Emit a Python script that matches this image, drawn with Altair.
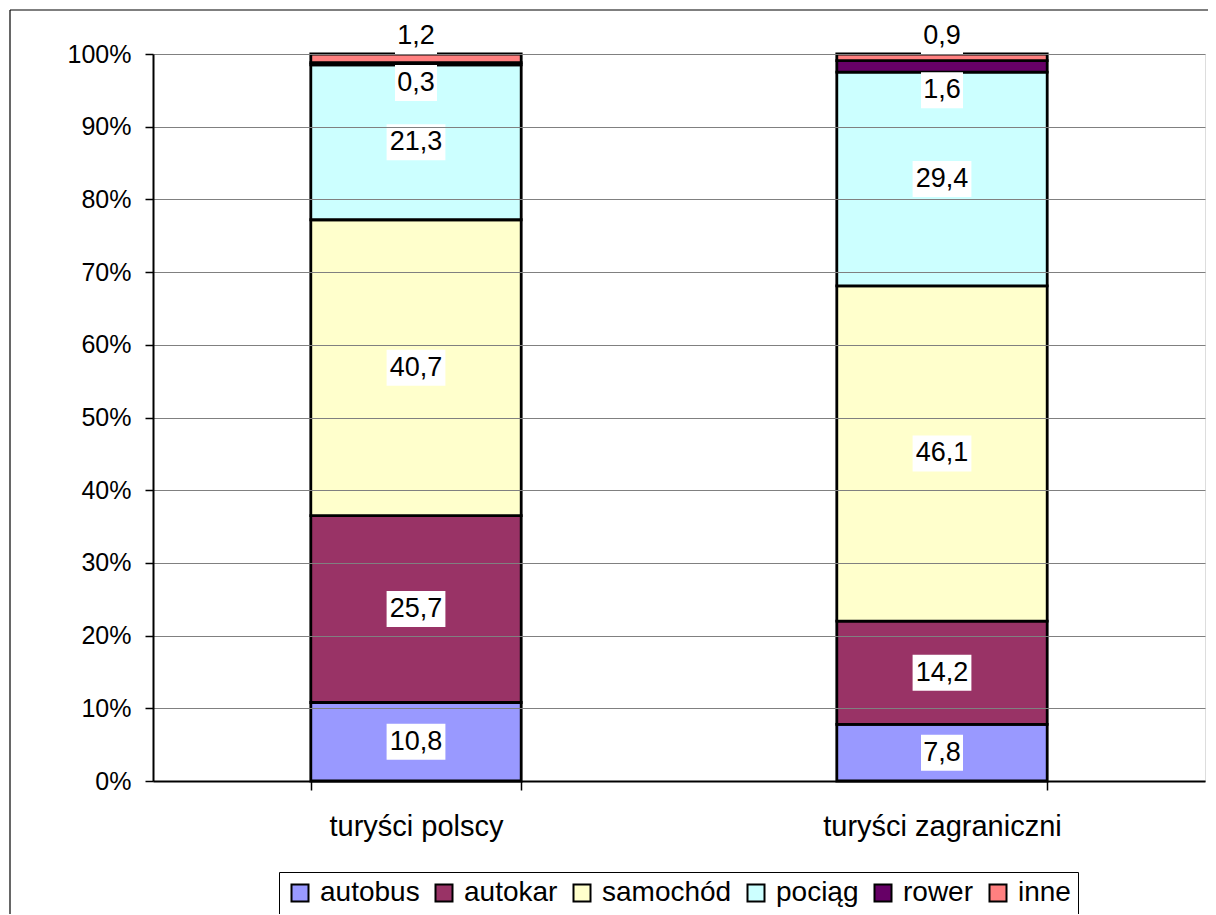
import altair as alt
import pandas as pd

groups = ["turyści polscy", "turyści zagraniczni"]
series = ["autobus", "autokar", "samochód", "pociąg", "rower", "inne"]
polscy = [10.8, 25.7, 40.7, 21.3, 0.3, 1.2]
zagraniczni = [7.8, 14.2, 46.1, 29.4, 1.6, 0.9]
colors = ["#9999FF", "#993366", "#FFFFCC", "#CCFFFF", "#660066", "#FF8080"]
y_ticks = [0, 0.1, 0.2, 0.3, 0.4, 0.5, 0.6, 0.7, 0.8, 0.9, 1.0]

rows = []
for g, vals in zip(groups, [polscy, zagraniczni]):
    for i, (s, v) in enumerate(zip(series, vals)):
        rows.append({"grupa": g, "srodek": s, "idx": i, "value": v})
df = pd.DataFrame(rows)

FONT = "Liberation Sans"

x_enc = alt.X(
    "grupa:N",
    sort=groups,
    scale=alt.Scale(paddingInner=0.6, paddingOuter=0.3),
    axis=alt.Axis(
        title=None, labelAngle=0, tickBand="extent", labelFont=FONT,
        labelFontSize=29, labelColor="black", labelPadding=22, tickSize=9,
        tickColor="black", tickWidth=1.5, domainColor="black", domainWidth=2,
        grid=False, zindex=2, labelLimit=500,
    ),
)
y_scale = alt.Scale(domain=[0, 1], nice=False)

base = alt.Chart(df).transform_stack(
    stack="value", groupby=["grupa"], as_=["y0", "y1"], offset="normalize",
    sort=[alt.SortField("idx", "ascending")],
)

bars = base.mark_bar(stroke="black", strokeWidth=2.8, opacity=1).encode(
    x=x_enc,
    y=alt.Y(
        "y0:Q", scale=y_scale,
        axis=alt.Axis(
            title=None, format=".0%", values=y_ticks, labelFont=FONT,
            labelFontSize=25, labelColor="black", labelPadding=14, tickSize=8,
            tickColor="black", tickWidth=1.5, domainColor="black", domainWidth=2,
            grid=True, gridColor="#808080", gridWidth=1.2, zindex=2,
        ),
    ),
    y2="y1:Q",
    color=alt.Color(
        "srodek:N", scale=alt.Scale(domain=series, range=colors),
        legend=alt.Legend(
            title=None, orient="none", legendX=126, legendY=818,
            direction="horizontal", columns=6, strokeColor="black",
            fillColor="white", padding=7, labelFont=FONT, labelFontSize=28,
            labelColor="black", symbolType="square", symbolSize=289,
            symbolStrokeColor="black", symbolStrokeWidth=2, symbolOpacity=1,
            labelOffset=6, columnPadding=10, labelLimit=300,
        ),
    ),
    order=alt.Order("idx:Q", sort="ascending"),
)

lab = base.transform_calculate(
    ly="datum.srodek == 'rower' ? datum.y0 : (datum.srodek == 'inne' ? datum.y1 : (datum.y0 + datum.y1) / 2)",
    label="replace(format(datum.value, '.1f'), '.', ',')",
).transform_calculate(
    w="length(datum.label) > 3 ? '0.98' : '0.7'",
    t="datum.srodek == 'rower' ? '0' : (datum.srodek == 'inne' ? '-1.2' : '-0.6')",
    b="datum.srodek == 'rower' ? '1.2' : (datum.srodek == 'inne' ? '0' : '0.6')",
).transform_calculate(
    box="'M-' + datum.w + ',' + datum.t + 'H' + datum.w + 'V' + datum.b + 'H-' + datum.w + 'Z'",
)

boxes = lab.mark_point(filled=True, fill="white", opacity=1, strokeWidth=0, size=3600).encode(
    x=alt.X("grupa:N", sort=groups),
    y=alt.Y("ly:Q", scale=y_scale),
    shape=alt.Shape("box:N", scale=None),
)

def text_layer(cond, dy):
    return lab.transform_filter(cond).mark_text(
        font=FONT, fontSize=27, color="black", baseline="middle", dy=dy
    ).encode(
        x=alt.X("grupa:N", sort=groups),
        y=alt.Y("ly:Q", scale=y_scale),
        text="label:N",
    )

texts_main = text_layer("datum.srodek != 'rower' && datum.srodek != 'inne'", 0)
texts_rower = text_layer("datum.srodek == 'rower'", 18)
texts_inne = text_layer("datum.srodek == 'inne'", -18)

frame_df = pd.DataFrame({"k": [0]})
frame_left = alt.Chart(frame_df).mark_rule(color="black", strokeWidth=1.2).encode(
    x=alt.value(-143), y=alt.value(-44), y2=alt.value(900)
)
frame_top = alt.Chart(frame_df).mark_rule(color="black", strokeWidth=1.2).encode(
    x=alt.value(-143), x2=alt.value(1100), y=alt.value(-44)
)

chart = alt.layer(
    bars, boxes, texts_main, texts_rower, texts_inne, frame_left, frame_top
).properties(
    width=1052,
    height=727,
    padding={"left": 145, "top": 46, "right": 3, "bottom": 133},
    autosize=alt.AutoSizeParams(type="none"),
).configure_view(
    stroke="#999999", strokeWidth=1.5
).configure(background="white")

chart.save("out.html", embed_options={"renderer": "svg", "actions": False})
